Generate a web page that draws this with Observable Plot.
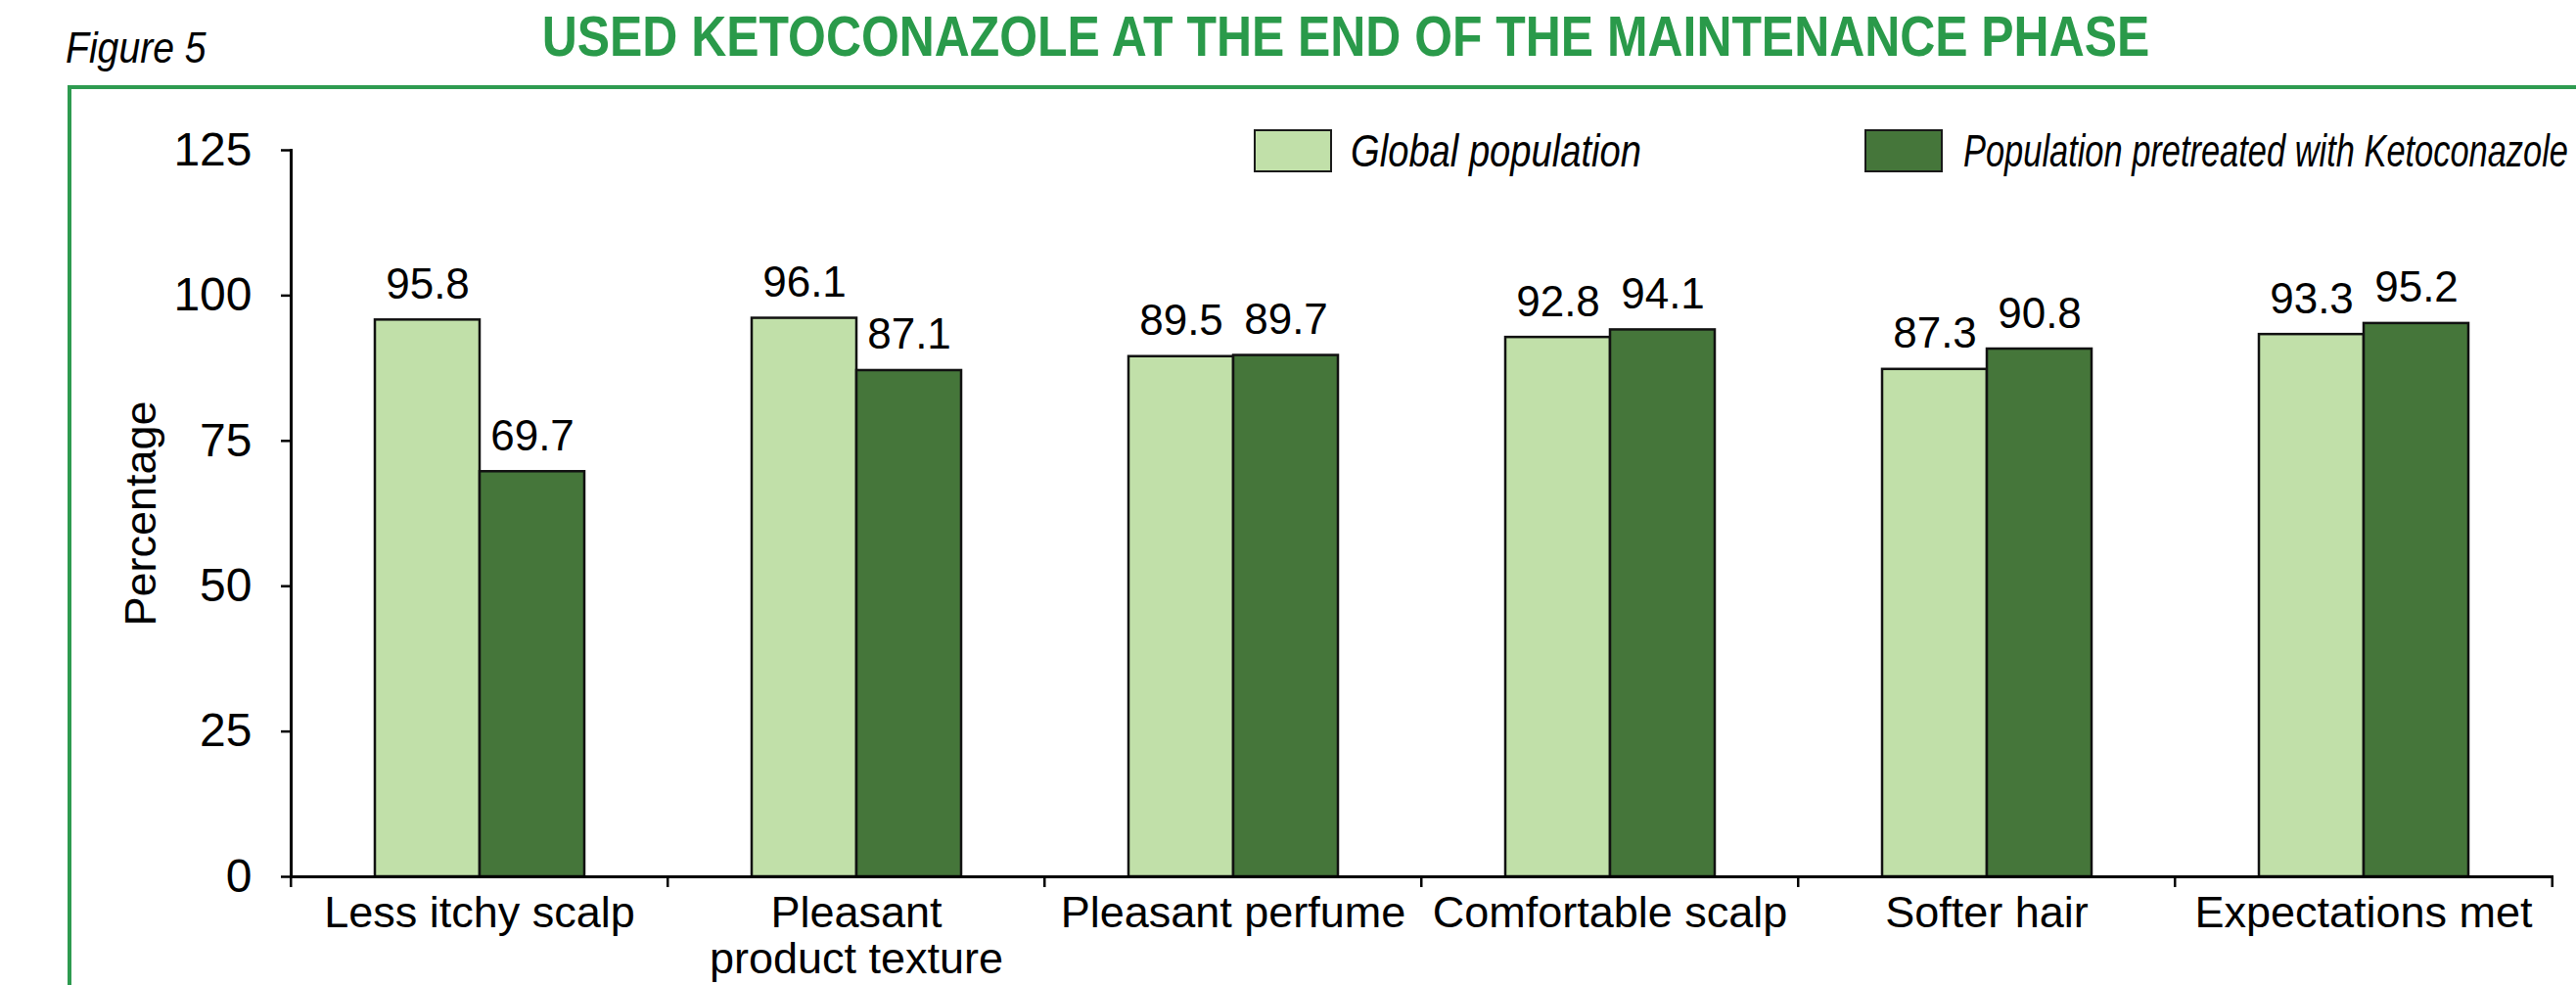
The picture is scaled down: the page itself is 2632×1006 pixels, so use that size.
<!DOCTYPE html>
<html>
<head>
<meta charset="utf-8">
<script src="https://cdn.jsdelivr.net/npm/d3@7"></script>
<script src="https://cdn.jsdelivr.net/npm/@observablehq/plot@0.6"></script>
<style>
  html, body { margin: 0; padding: 0; background: #fff; }
  #root { position: relative; width: 2632px; height: 1006px; overflow: hidden; background: #fff;
          font-family: 'Liberation Sans', Arial, sans-serif; }
  .abs { position: absolute; white-space: nowrap; line-height: 1; }
  #figlabel { left: 67px; top: 26px; font-size: 45px; font-style: italic; color: #000; transform: scaleX(0.87); transform-origin: left center; }
  #title { left: 1375px; top: 8px; font-size: 58px; font-weight: bold; color: #2a9a4a; transform: translateX(-50%) scaleX(0.86); }
  #frame { left: 69px; top: 87px; right: -10px; bottom: -10px; border-top: 4px solid #2e9b50; border-left: 4px solid #2e9b50; }
  #chart { position: absolute; left: 0; top: 92px; }
  .sw { position: absolute; top: 132px; width: 76px; height: 40px; border: 2px solid #1a1a1a; box-sizing: content-box; }
  .lt { font-size: 46px; font-style: italic; color: #000; top: 131px; transform-origin: left center; }
</style>
</head>
<body>
<div id="root">
  <div id="figlabel" class="abs">Figure 5</div>
  <div id="title" class="abs">USED KETOCONAZOLE AT THE END OF THE MAINTENANCE PHASE</div>
  <div id="frame" class="abs"></div>
  <div id="chart"></div>
  <div id="legend"></div>
</div>
<script>
const categories = ["Less itchy scalp", "Pleasant\nproduct texture", "Pleasant perfume", "Comfortable scalp", "Softer hair", "Expectations met"];
const series = ["Global population", "Population pretreated with Ketoconazole"];
const globalValues = [95.8, 96.1, 89.5, 92.8, 87.3, 93.3];
const pretreatedValues = [69.7, 87.1, 89.7, 94.1, 90.8, 95.2];
const yTicks = [0, 25, 50, 75, 100, 125];
const colors = ["#c1e0a9", "#45763a"];

const data = categories.flatMap((c, i) => [
  {category: c, series: series[0], value: globalValues[i]},
  {category: c, series: series[1], value: pretreatedValues[i]}
]);

const W = 2632, H = 914, mL = 295, mR = 24, mT = 61, mB = 111;
const bw = (W - mL - mR) / categories.length;
const font = "'Liberation Sans', Arial, sans-serif";

const chart = Plot.plot({
  width: W, height: H,
  marginLeft: mL, marginRight: mR, marginTop: mT, marginBottom: mB,
  style: {fontFamily: font, fontSize: "48px", color: "#000", background: "transparent", overflow: "visible"},
  fx: {domain: categories, padding: 0, label: null},
  x: {domain: series, paddingInner: 0, paddingOuter: 0.787, axis: null},
  y: {domain: [0, 125], label: null},
  color: {domain: series, range: colors},
  marks: [
    Plot.barY(data, {fx: "category", x: "series", y: "value", fill: "series", stroke: "#111", strokeWidth: 2.5}),
    Plot.text(data, {fx: "category", x: "series", y: "value", text: d => d.value.toFixed(1), lineAnchor: "bottom", dy: -22, fontSize: 44, fill: "#000"}),
    Plot.frame({anchor: "bottom", stroke: "#000", strokeWidth: 3}),
    Plot.frame({anchor: "left", facetAnchor: "left", stroke: "#000", strokeWidth: 3}),
    Plot.axisY({ticks: yTicks, tickSize: 10, tickPadding: 30, strokeWidth: 2.5, fontSize: 48,
                label: "Percentage", labelAnchor: "center", labelArrow: "none", labelOffset: 170}),
    Plot.axisFx({anchor: "bottom", tickSize: 0, tickPadding: 19, fontSize: 45, lineHeight: 1.03, label: null}),
    Plot.axisFx({anchor: "bottom", tickSize: 11, strokeWidth: 2.5, tickFormat: () => "", dx: -bw / 2, label: null}),
    Plot.axisFx({anchor: "bottom", ticks: [categories[categories.length - 1]], tickSize: 11, strokeWidth: 2.5, tickFormat: () => "", dx: bw / 2, label: null})
  ]
});
chart.querySelectorAll("text").forEach(t => {
  if (t.textContent === "Percentage") t.setAttribute("font-size", "45");
});
document.getElementById("chart").appendChild(chart);

// Legend (HTML overlay inside the plot frame)
const legend = document.getElementById("legend");
const legendPos = [{sw: 1281, tx: 1380, tw: 297}, {sw: 1905, tx: 2006, tw: 618}];
series.forEach((s, i) => {
  const sw = document.createElement("div");
  sw.className = "sw";
  sw.style.left = legendPos[i].sw + "px";
  sw.style.background = colors[i];
  legend.appendChild(sw);
  const t = document.createElement("div");
  t.className = "abs lt";
  t.style.left = legendPos[i].tx + "px";
  t.textContent = s;
  legend.appendChild(t);
  const w = t.getBoundingClientRect().width;
  t.style.transform = `scaleX(${legendPos[i].tw / w})`;
});
</script>
</body>
</html>
